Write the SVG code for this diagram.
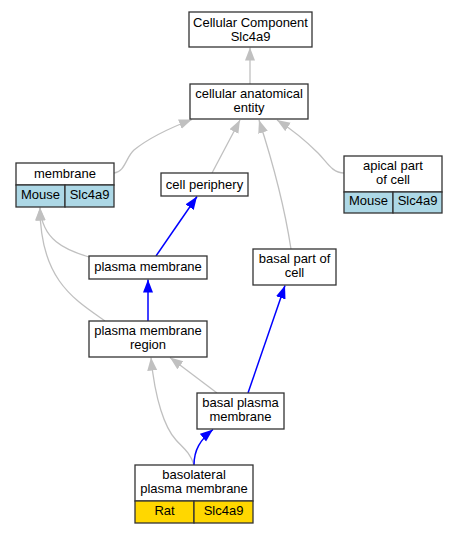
<svg xmlns="http://www.w3.org/2000/svg" width="459" height="533" viewBox="0 0 459 533">
<defs>
<style>
.box{fill:#ffffff;stroke:#333333;stroke-width:1.3}
.mouse{fill:#add8e6;stroke:#333333;stroke-width:1.3}
.rat{fill:#ffd700;stroke:#333333;stroke-width:1.3}
text{font-family:"Liberation Sans",Arial,sans-serif;font-size:13px;fill:#000000;text-anchor:middle}
.g{fill:none;stroke:#c0c0c0;stroke-width:1.3}
.b{fill:none;stroke:#0000ff;stroke-width:1.5}
.g{marker-end:url(#ag)}
.b{marker-end:url(#ab)}
</style>
<marker id="ag" markerUnits="userSpaceOnUse" markerWidth="13" markerHeight="11" refX="13" refY="5" orient="auto"><path d="M0,0 L13,5 L0,10 z" fill="#c0c0c0" stroke="none"/></marker>
<marker id="ab" markerUnits="userSpaceOnUse" markerWidth="13" markerHeight="11" refX="13" refY="5" orient="auto"><path d="M0,0 L13,5 L0,10 z" fill="#0000ff" stroke="none"/></marker>
</defs>
<rect width="459" height="533" fill="#ffffff"/>
<g id="connectors">
<path class="g" d="M250,84 L250,47.5"/>
<path class="g" d="M114,173 C125,172 126,157 134,150 C150,137 175,126 192,119.5"/>
<path class="g" d="M212,173 L240,120"/>
<path class="g" d="M291,249 C285,210 272,160 259,120"/>
<path class="g" d="M344,173 C332,173 327,162 318,153 C304,139 288,127 277,120"/>
<path class="g" d="M89,257 C65,250 42,240 40,207.5"/>
<path class="g" d="M105,321 C75,300 40,280 40,207.5"/>
<path class="b" d="M156,256 L197,196.5"/>
<path class="b" d="M148,321 L148,279.5"/>
<path class="b" d="M248,393 L285,285.5"/>
<path class="g" d="M217,393 L170,357.5"/>
<path class="g" d="M194,465 C190,452 182,447 176,440 C165,428 155,400 151,357.5"/>
<path class="b" d="M194,465 C194,450 200,440 213,429.5"/>
</g>
<g id="cellular_component">
<rect class="box" x="189" y="12" width="123" height="35"/>
<text x="250.5" y="27">Cellular Component</text>
<text x="250.5" y="41">Slc4a9</text>
</g>
<g id="cellular_anatomical_entity">
<rect class="box" x="190" y="84" width="118" height="35"/>
<text x="249" y="98">cellular anatomical</text>
<text x="249" y="112">entity</text>
</g>
<g id="membrane">
<rect class="box" x="16" y="163" width="98" height="22"/>
<rect class="mouse" x="16" y="185" width="49" height="22"/>
<rect class="mouse" x="65" y="185" width="49" height="22"/>
<text x="65" y="178">membrane</text>
<text x="40.5" y="198.5">Mouse</text>
<text x="89.5" y="198.5">Slc4a9</text>
</g>
<g id="cell_periphery">
<rect class="box" x="161" y="173" width="87" height="23"/>
<text x="204.5" y="188.5">cell periphery</text>
</g>
<g id="apical_part_of_cell">
<rect class="box" x="344" y="156" width="98" height="36"/>
<rect class="mouse" x="344" y="192" width="49" height="21"/>
<rect class="mouse" x="393" y="192" width="49" height="21"/>
<text x="393" y="169.5">apical part</text>
<text x="393" y="183.5">of cell</text>
<text x="368.5" y="205">Mouse</text>
<text x="417.5" y="205">Slc4a9</text>
</g>
<g id="plasma_membrane">
<rect class="box" x="89" y="256" width="118" height="23"/>
<text x="148" y="271">plasma membrane</text>
</g>
<g id="basal_part_of_cell">
<rect class="box" x="253" y="249" width="83" height="36"/>
<text x="294.5" y="263">basal part of</text>
<text x="294.5" y="277">cell</text>
</g>
<g id="plasma_membrane_region">
<rect class="box" x="89" y="321" width="118" height="36"/>
<text x="148" y="335">plasma membrane</text>
<text x="148" y="349">region</text>
</g>
<g id="basal_plasma_membrane">
<rect class="box" x="197" y="393" width="87" height="36"/>
<text x="240.5" y="407">basal plasma</text>
<text x="240.5" y="421">membrane</text>
</g>
<g id="basolateral_plasma_membrane">
<rect class="box" x="135" y="465" width="118" height="36"/>
<rect class="rat" x="135" y="501" width="59" height="22"/>
<rect class="rat" x="194" y="501" width="59" height="22"/>
<text x="194" y="479">basolateral</text>
<text x="194" y="493">plasma membrane</text>
<text x="164.5" y="515">Rat</text>
<text x="223.5" y="515">Slc4a9</text>
</g>
</svg>
